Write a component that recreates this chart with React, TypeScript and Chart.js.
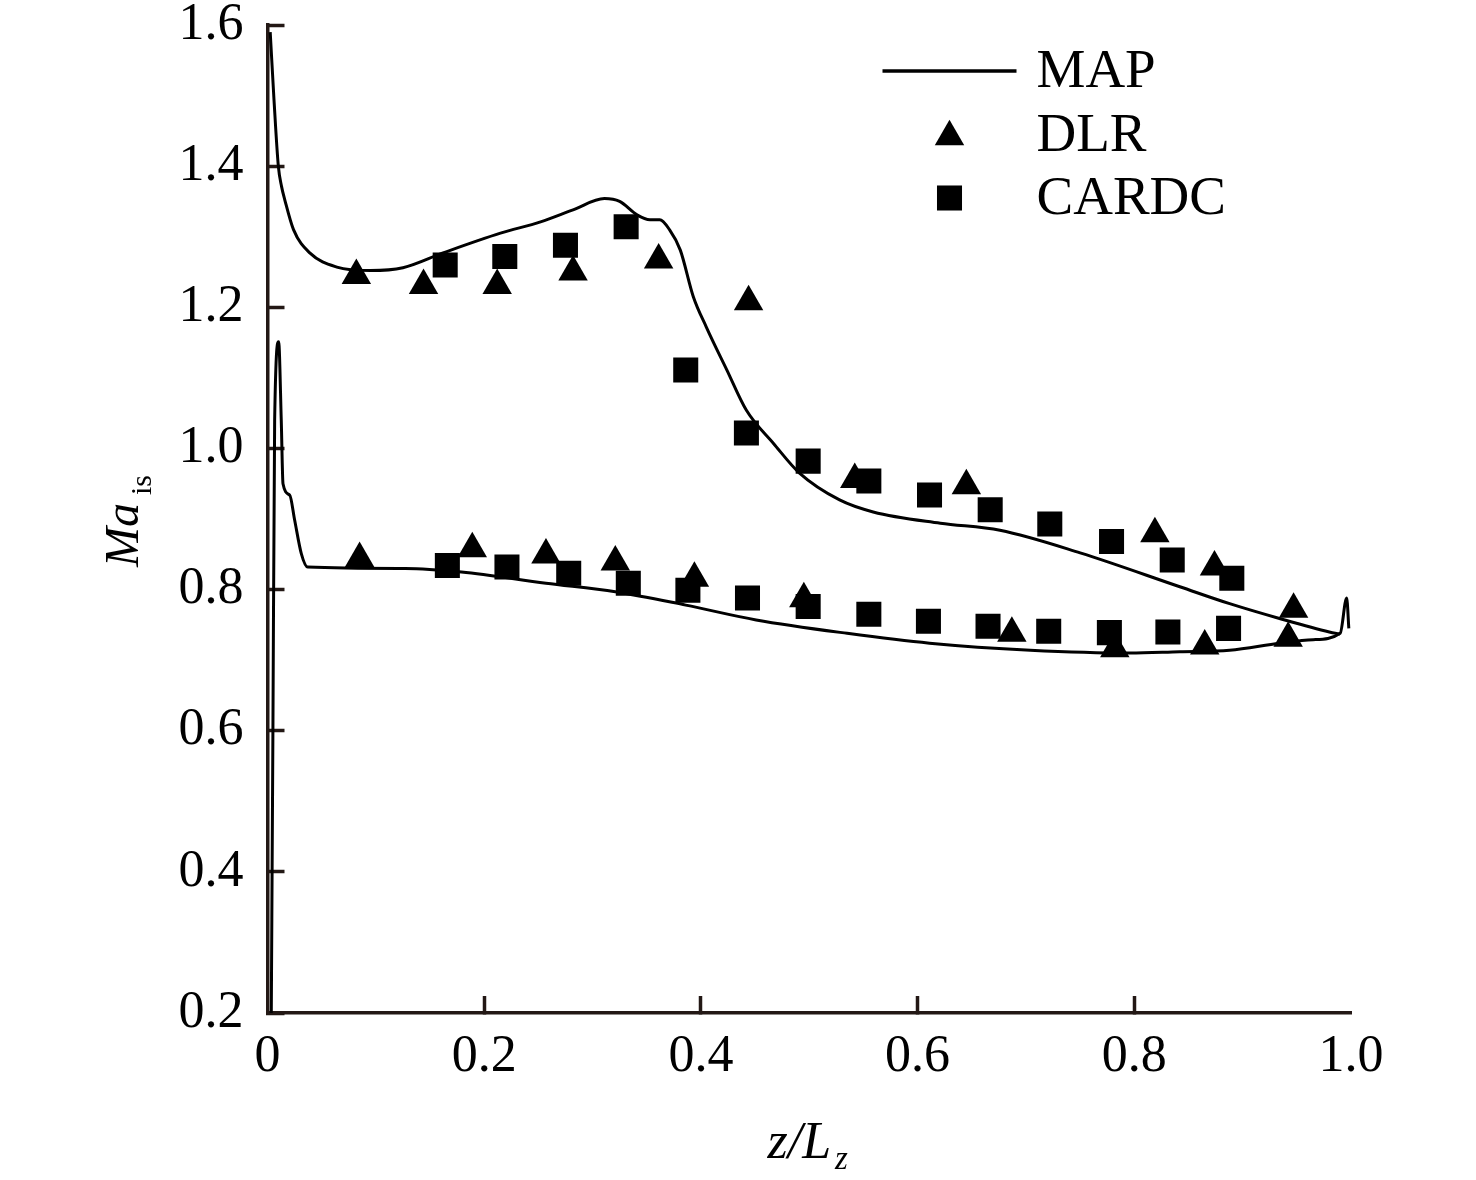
import { useEffect, useRef } from 'react';
import { Chart, registerables } from 'chart.js';

Chart.register(...registerables);

const FONT = '"Liberation Serif", "Times New Roman", serif';
const INK = '#000000';
const AXIS = '#231815';

// MAP computation, suction side (upper branch)
const mapUpperX = [0.0025, 0.006, 0.01, 0.013, 0.016, 0.024, 0.039, 0.064, 0.095, 0.125, 0.162, 0.215, 0.252, 0.282, 0.311, 0.325, 0.341, 0.353, 0.362, 0.371, 0.381, 0.393, 0.405, 0.424, 0.442, 0.467, 0.491, 0.528, 0.559, 0.621, 0.676, 0.75, 0.842, 0.888, 0.934, 0.98, 0.99];
const mapUpperY = [1.59, 1.494, 1.4, 1.371, 1.352, 1.31, 1.277, 1.257, 1.252, 1.256, 1.277, 1.305, 1.321, 1.338, 1.354, 1.35, 1.331, 1.324, 1.324, 1.31, 1.281, 1.215, 1.172, 1.111, 1.054, 1.007, 0.965, 0.927, 0.91, 0.894, 0.884, 0.852, 0.804, 0.78, 0.759, 0.74, 0.737];

// MAP computation, pressure side (lower branch)
const mapLowerX = [0.0035, 0.005, 0.0066, 0.0103, 0.0127, 0.0143, 0.0205, 0.025, 0.0312, 0.037, 0.127, 0.179, 0.257, 0.321, 0.386, 0.451, 0.535, 0.611, 0.704, 0.796, 0.842, 0.888, 0.934, 0.965, 0.99, 0.996, 0.998];
const mapLowerY = [0.2, 0.6, 1.04, 1.151, 1.04, 0.95, 0.934, 0.899, 0.851, 0.832, 0.83, 0.825, 0.809, 0.797, 0.778, 0.757, 0.738, 0.724, 0.714, 0.71, 0.712, 0.714, 0.724, 0.729, 0.738, 0.788, 0.745];

// DLR measurements
const dlrX = [0.082, 0.144, 0.212, 0.282, 0.361, 0.444, 0.542, 0.645, 0.819, 0.874, 0.947, 0.085, 0.189, 0.257, 0.321, 0.394, 0.495, 0.687, 0.782, 0.865, 0.942];
const dlrY = [1.245, 1.231, 1.231, 1.25, 1.267, 1.208, 0.956, 0.947, 0.879, 0.832, 0.772, 0.844, 0.858, 0.849, 0.839, 0.816, 0.787, 0.738, 0.716, 0.72, 0.731];

// CARDC measurements
const cardcX = [0.164, 0.219, 0.275, 0.331, 0.386, 0.442, 0.499, 0.555, 0.611, 0.667, 0.722, 0.779, 0.835, 0.89, 0.166, 0.221, 0.278, 0.333, 0.388, 0.443, 0.499, 0.555, 0.61, 0.665, 0.721, 0.777, 0.831, 0.887];
const cardcY = [1.26, 1.272, 1.288, 1.314, 1.111, 1.022, 0.982, 0.954, 0.934, 0.913, 0.893, 0.868, 0.842, 0.816, 0.834, 0.832, 0.823, 0.809, 0.799, 0.788, 0.776, 0.765, 0.755, 0.748, 0.741, 0.739, 0.74, 0.745];

const xTicks = [0, 0.2, 0.4, 0.6, 0.8, 1.0];
const yTicks = [0.2, 0.4, 0.6, 0.8, 1.0, 1.2, 1.4, 1.6];

const zip = (xs: number[], ys: number[]) => xs.map((x, i) => ({ x, y: ys[i] }));

// axis titles with subscripts + the legend box in the upper right
const paperLabels = {
    id: 'paperLabels',
    afterDraw(chart: any) {
        const { ctx, chartArea } = chart;
        const { left, top, bottom } = chartArea;
        ctx.save();
        ctx.fillStyle = INK;
        ctx.textAlign = 'left';
        ctx.textBaseline = 'alphabetic';

        // y title: Ma_is
        ctx.save();
        ctx.translate(left - 130, top + 542);
        ctx.rotate(-Math.PI / 2);
        ctx.font = `italic 48px ${FONT}`;
        ctx.fillText('Ma', 0, 0);
        const maW = ctx.measureText('Ma').width;
        ctx.font = `30px ${FONT}`;
        ctx.fillText('is', maW + 8, 13);
        ctx.restore();

        // x title: z/L_z
        ctx.font = `italic 52px ${FONT}`;
        const xt = left + 500;
        const yt = bottom + 145;
        ctx.fillText('z/L', xt, yt);
        const zlW = ctx.measureText('z/L').width;
        ctx.font = `italic 33px ${FONT}`;
        ctx.fillText('z', xt + zlW + 4, yt + 11);

        // legend
        const symX = left + 682;
        const textX = left + 769;
        const rows = [46, 110, 173];
        const entries = [0, 2, 3].map((i) => chart.data.datasets[i]);
        entries.forEach((ds: any, k: number) => {
            const cy = top + rows[k];
            ctx.fillStyle = INK;
            ctx.strokeStyle = INK;
            if (ds.showLine) {
                ctx.lineWidth = 3.5;
                ctx.beginPath();
                ctx.moveTo(symX - 67, cy);
                ctx.lineTo(symX + 67, cy);
                ctx.stroke();
            } else if (ds.pointStyle === 'triangle') {
                const r = ds.pointRadius;
                const c = cy + r * 0.1;
                ctx.beginPath();
                ctx.moveTo(symX, c - r);
                ctx.lineTo(symX + r * 0.866, c + r / 2);
                ctx.lineTo(symX - r * 0.866, c + r / 2);
                ctx.closePath();
                ctx.fill();
            } else {
                const s = ds.pointRadius * Math.SQRT1_2;
                ctx.fillRect(symX - s, cy - s, 2 * s, 2 * s);
            }
            ctx.font = `55px ${FONT}`;
            ctx.textBaseline = 'middle';
            ctx.fillText(ds.label, textX, cy + 2);
        });
        ctx.restore();
    },
};

function MachChart() {
    const canvasRef = useRef<HTMLCanvasElement | null>(null);
    const chartRef = useRef<Chart | null>(null);

    useEffect(() => {
        if (!canvasRef.current) return;

        const lineStyle = {
            showLine: true,
            pointRadius: 0,
            borderColor: INK,
            borderWidth: 3,
            fill: false,
            cubicInterpolationMode: 'monotone' as const,
        };

        chartRef.current = new Chart(canvasRef.current, {
            type: 'scatter',
            data: {
                datasets: [
                    { label: 'MAP', data: zip(mapUpperX, mapUpperY), ...lineStyle },
                    { label: 'MAP', data: zip(mapLowerX, mapLowerY), ...lineStyle },
                    {
                        label: 'DLR',
                        data: zip(dlrX, dlrY),
                        pointStyle: 'triangle',
                        pointRadius: 17,
                        backgroundColor: INK,
                        borderWidth: 0,
                    },
                    {
                        label: 'CARDC',
                        data: zip(cardcX, cardcY),
                        pointStyle: 'rect',
                        pointRadius: 17.7,
                        backgroundColor: INK,
                        borderWidth: 0,
                    },
                ],
            },
            options: {
                animation: false,
                responsive: false,
                layout: { padding: { top: 25, right: 125, left: 0, bottom: 0 } },
                plugins: {
                    legend: { display: false },
                    tooltip: { enabled: false },
                },
                scales: {
                    x: {
                        type: 'linear',
                        min: 0,
                        max: 1,
                        afterBuildTicks: (scale: any) => {
                            scale.ticks = xTicks.map((value) => ({ value }));
                        },
                        afterFit: (scale: any) => {
                            scale.height = 167;
                            scale.paddingLeft = 0;
                            scale.paddingRight = 0;
                        },
                        border: { display: true, color: AXIS, width: 3.5 },
                        grid: {
                            drawOnChartArea: false,
                            tickLength: -17,
                            tickWidth: 3.5,
                            color: (c: any) => (c.tick && (c.tick.value === 0 || c.tick.value === 1) ? 'rgba(0,0,0,0)' : AXIS),
                        },
                        ticks: {
                            padding: 35,
                            color: INK,
                            font: { family: FONT, size: 52, lineHeight: 1 },
                            callback: (v: any) => (Number(v) === 0 ? '0' : Number(v).toFixed(1)),
                        },
                    },
                    y: {
                        type: 'linear',
                        min: 0.2,
                        max: 1.6,
                        afterBuildTicks: (scale: any) => {
                            scale.ticks = yTicks.map((value) => ({ value }));
                        },
                        afterFit: (scale: any) => {
                            scale.width = 267.5;
                            scale.paddingTop = 0;
                            scale.paddingBottom = 0;
                        },
                        border: { display: true, color: AXIS, width: 3.5 },
                        grid: {
                            drawOnChartArea: false,
                            tickLength: -17,
                            tickWidth: 3.5,
                            color: AXIS,
                        },
                        ticks: {
                            padding: 41,
                            color: INK,
                            font: { family: FONT, size: 52, lineHeight: 1 },
                            callback: (v: any) => Number(v).toFixed(1),
                        },
                    },
                },
            },
            plugins: [paperLabels],
        });

        return () => {
            if (chartRef.current) {
                chartRef.current.destroy();
                chartRef.current = null;
            }
        };
    }, []);

    return (
        <div style={{ position: 'absolute', left: 0, top: 0, width: 1476, height: 1180, background: '#fff' }}>
            <canvas ref={canvasRef} width={1476} height={1180} style={{ display: 'block', width: 1476, height: 1180 }} />
        </div>
    );
}

export default function App() {
    return <MachChart />;
}
